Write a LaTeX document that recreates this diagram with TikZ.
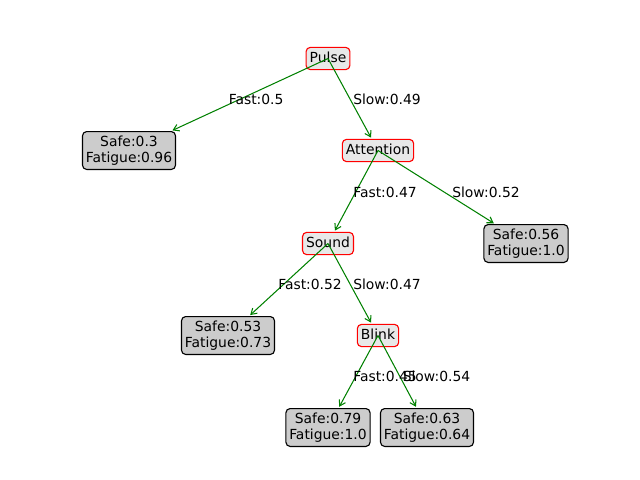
\documentclass[tikz,border=0pt]{standalone}
\usepackage{fontspec}
\setmainfont{DejaVu Sans}
\usetikzlibrary{arrows.meta}
\begin{document}
\begin{tikzpicture}[x=0.72pt,y=-0.72pt,
  font=\fontsize{10}{11.6}\selectfont,
  decision/.style={draw=red,fill=black!9,line width=0.8pt,rounded corners=3pt,
    inner xsep=2.6pt,inner ysep=3pt,text height=7.6pt,text depth=2.4pt},
  leaf/.style={draw=black,fill=black!20,line width=0.8pt,rounded corners=3pt,
    align=center,inner xsep=2.4pt,inner ysep=3pt},
  edge/.style={draw={rgb,255:red,0;green,128;blue,0},line width=0.75pt,
    -{Straight Barb[length=4pt,width=5pt]},shorten >=1pt},
  elabel/.style={anchor=base west,inner sep=0pt}]
\useasboundingbox (0,-1.5) rectangle (640,478.5);
\node[decision] (pulse) at (328,57) {Pulse};
\node[leaf] (l1) at (129,149) {Safe:0.3\\Fatigue:0.96};
\node[decision] (att) at (378,149) {Attention};
\node[leaf] (l2) at (526,242) {Safe:0.56\\Fatigue:1.0};
\node[decision] (sound) at (328,242) {Sound};
\node[leaf] (l3) at (228,334) {Safe:0.53\\Fatigue:0.73};
\node[decision] (blink) at (378,334) {Blink};
\node[leaf] (l4) at (328,426) {Safe:0.79\\Fatigue:1.0};
\node[leaf] (l5) at (427,426) {Safe:0.63\\Fatigue:0.64};

\draw[edge] (pulse.center) -- (l1);
\draw[edge] (pulse.center) -- (att);
\draw[edge] (att.center) -- (sound);
\draw[edge] (att.center) -- (l2);
\draw[edge] (sound.center) -- (l3);
\draw[edge] (sound.center) -- (blink);
\draw[edge] (blink.center) -- (l4);
\draw[edge] (blink.center) -- (l5);

\path (pulse.center) -- (l1.center) node[pos=0.5,elabel] (t1) {Fast:0.5};
\path (pulse.center) -- (att.center) node[pos=0.5,elabel] (t2) {Slow:0.49};
\path (att.center) -- (sound.center) node[pos=0.5,elabel] (t3) {Fast:0.47};
\path (att.center) -- (l2.center) node[pos=0.5,elabel] (t4) {Slow:0.52};
\path (sound.center) -- (l3.center) node[pos=0.5,elabel] (t5) {Fast:0.52};
\path (sound.center) -- (blink.center) node[pos=0.5,elabel] (t6) {Slow:0.47};
\path (blink.center) -- (l4.center) node[pos=0.5,elabel] (t7) {Fast:0.45};
\path (blink.center) -- (l5.center) node[pos=0.5,elabel] (t8) {Slow:0.54};
\end{tikzpicture}
\end{document}
